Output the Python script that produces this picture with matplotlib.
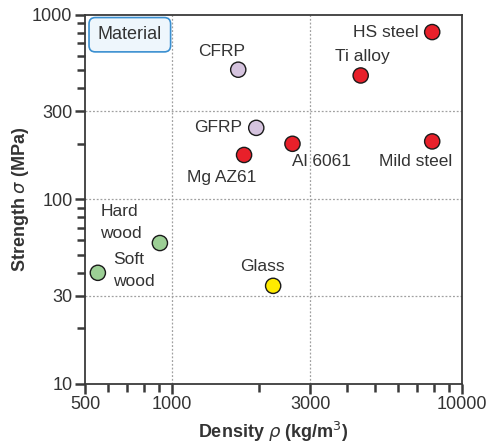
import matplotlib.pyplot as plt
from matplotlib.ticker import FixedLocator, LogLocator, NullFormatter

plt.rcParams['font.family'] = ['Liberation Sans', 'DejaVu Sans']

# Material data: density (kg/m3) and strength (MPa)
materials = ["HS steel", "Ti alloy", "CFRP", "GFRP", "Al 6061", "Mild steel",
             "Mg AZ61", "Hard\nwood", "Soft\nwood", "Glass"]
density = [7890, 4470, 1690, 1950, 2600, 7890, 1770, 907, 554, 2230]
strength = [806, 469, 504, 244, 200, 206, 174, 58, 40, 34]
colours = ["#e8202a", "#e8202a", "#d5c3de", "#d5c3de", "#e8202a", "#e8202a",
           "#e8202a", "#9ccf95", "#9ccf95", "#ffeb00"]

# label placement: (offset in points, horizontal alignment)
label_pos = [
    ((-10, 0), "right"),
    ((1, 14), "center"),
    ((-12, 13), "center"),
    ((-10, 0), "right"),
    ((0, -13), "left"),
    ((-12, -14.5), "center"),
    ((-16, -16), "center"),
    ((-43, 15), "left"),
    ((11, 1.5), "left"),
    ((-8, 14), "center"),
]

x_ticks = [500, 1000, 3000, 10000]
y_ticks = [10, 30, 100, 300, 1000]

text_col = "#333333"
axis_col = "#3a3a3a"

fig = plt.figure(figsize=(4.91, 4.48), dpi=100)
ax = fig.add_axes([0.173, 0.143, 0.768, 0.824])

ax.set_xscale("log")
ax.set_yscale("log")
ax.set_xlim(500, 10000)
ax.set_ylim(10, 1000)

ax.scatter(density, strength, s=120, c=colours, edgecolors="#1a1a1a",
           linewidths=1.0, zorder=3)

for name, x, y, (off, ha) in zip(materials, density, strength, label_pos):
    t = ax.annotate(name, (x, y), xytext=off, textcoords="offset points",
                    ha=ha, va="center", fontsize=12.5, color=text_col)
    t.set_linespacing(1.6)

ax.xaxis.set_major_locator(FixedLocator(x_ticks))
ax.yaxis.set_major_locator(FixedLocator(y_ticks))
ax.set_xticklabels([str(t) for t in x_ticks])
ax.set_yticklabels([str(t) for t in y_ticks])
ax.xaxis.set_minor_locator(LogLocator(base=10, subs=range(2, 10)))
ax.yaxis.set_minor_locator(LogLocator(base=10, subs=range(2, 10)))
ax.xaxis.set_minor_formatter(NullFormatter())
ax.yaxis.set_minor_formatter(NullFormatter())

ax.tick_params(which="both", direction="out", width=1.8, color=axis_col,
               labelsize=13, labelcolor=text_col, pad=2)
ax.tick_params(which="major", length=7)
ax.tick_params(which="minor", length=6)

for sp in ax.spines.values():
    sp.set_color(axis_col)
    sp.set_linewidth(1.3)

# dotted grid at inner major ticks
for x in x_ticks[1:-1]:
    ax.axvline(x, color="#a0a0a0", linestyle=(0, (1.5, 1.5)), linewidth=0.9, zorder=1)
for y in y_ticks[1:-1]:
    ax.axhline(y, color="#a0a0a0", linestyle=(0, (1.5, 1.5)), linewidth=0.9, zorder=1)

ax.set_xlabel(r"Density $\rho$ (kg/m$^3$)", fontsize=13, fontweight="bold",
              color=text_col, labelpad=5)
ax.set_ylabel(r"Strength $\sigma$ (MPa)", fontsize=13, fontweight="bold",
              color=text_col, labelpad=1)

ax.text(0.119, 0.946, "Material", transform=ax.transAxes, fontsize=13,
        color=text_col, ha="center", va="center",
        bbox=dict(boxstyle="round,pad=0.48,rounding_size=0.35",
                  facecolor="#eef6fc", edgecolor="#3a8fd0", linewidth=1.2))

fig.savefig("out.png", dpi=100)
